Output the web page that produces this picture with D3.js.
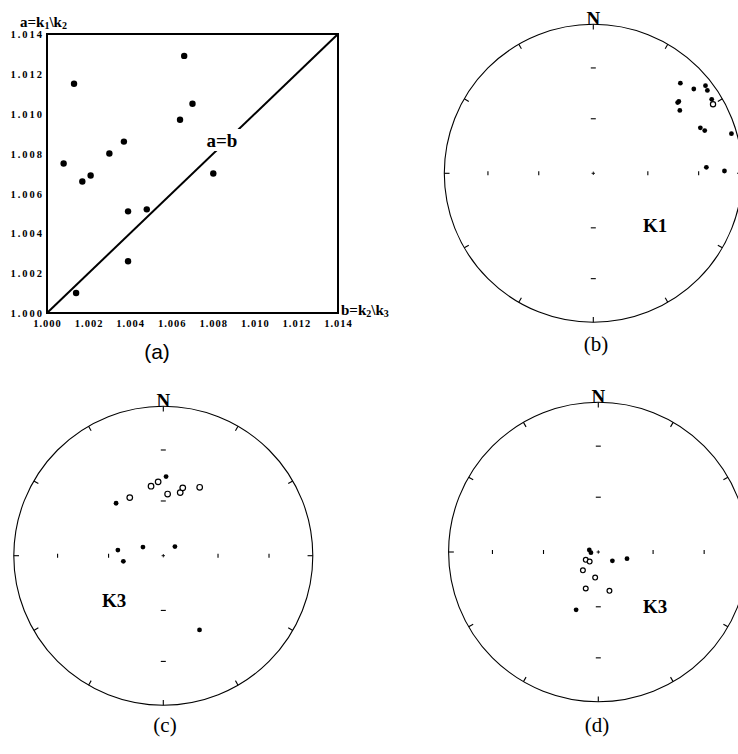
<!DOCTYPE html>
<html><head><meta charset="utf-8">
<script src="https://cdn.jsdelivr.net/npm/d3@7/dist/d3.min.js"></script>
<style>body{margin:0;background:#fff}svg{display:block}</style>
</head><body>
<svg id="c" width="738" height="754"></svg>
<script>
// ---- Panel (a): anisotropy ratios ----
const ratioTicks = [1.000,1.002,1.004,1.006,1.008,1.010,1.012,1.014];
const bValues = [1.0008,1.0013,1.0017,1.0021,1.0030,1.0037,1.0039,1.0048,1.0039,1.0014,1.0064,1.0066,1.0070,1.0080];
const aValues = [1.0075,1.0115,1.0066,1.0069,1.0080,1.0086,1.0051,1.0052,1.0026,1.0010,1.0097,1.0129,1.0105,1.0070];

// ---- Stereonets: [trend, plunge] in degrees ----
const k1Filled = [[44,17],[50,13],[52,5],[54,6],[58,7],[50,26],[50,27],[54,29],[67,23],[69,21],[74,4],[87,25],[89,13]];
const k1Open = [[60,8]];
const k3cFilled = [[2,46],[318,51],[277,65],[262,68],[293,78],[52,82],[154,44]];
const k3cOpen = [[330,53],[350,51],[356,49],[4,56],[15,54],[16,51],[28,47]];
const k3dFilled = [[283,85],[265,86],[122,81],[103,74],[201,56]];
const k3dOpen = [[238,82],[222,83],[220,77],[187,76],[199,69],[164,68]];
const netTickPlunges = [60,30];
const azimuthTicks = d3.range(0,360,30);

const svg = d3.select("#c");
const serif = "'Liberation Serif','Times New Roman',serif";

// Panel (a)
const ga = svg.append("g");
const x = d3.scaleLinear().domain([1.000,1.014]).range([47,338]);
const y = d3.scaleLinear().domain([1.000,1.014]).range([313,34]);
const fmt = d3.format(".3f");
const xAxis = ga.append("g").attr("transform","translate(0,313)")
  .call(d3.axisBottom(x).tickValues(ratioTicks).tickSize(0).tickPadding(7).tickFormat(fmt));
const yAxis = ga.append("g").attr("transform","translate(47,0)")
  .call(d3.axisLeft(y).tickValues(ratioTicks).tickSize(0).tickPadding(3).tickFormat(fmt));
[xAxis,yAxis].forEach(a=>{
  a.select(".domain").remove();
  a.selectAll("text").attr("font-family",serif).attr("font-weight","bold").attr("font-size",10.5).attr("fill","#000");
});
xAxis.selectAll("text").attr("letter-spacing",1);
yAxis.selectAll("text").attr("letter-spacing",2).attr("dy","0.35em");
ga.append("rect").attr("x",x(1.000)).attr("y",y(1.014))
  .attr("width",x(1.014)-x(1.000)).attr("height",y(1.000)-y(1.014))
  .attr("fill","none").attr("stroke","#000").attr("stroke-width",2);
ga.append("line").attr("x1",x(1.000)).attr("y1",y(1.000)).attr("x2",x(1.014)).attr("y2",y(1.014))
  .attr("stroke","#000").attr("stroke-width",2);
ga.append("rect").attr("x",202).attr("y",129).attr("width",42).attr("height",22).attr("fill","#fff");
ga.append("text").attr("x",222).attr("y",147).attr("text-anchor","middle")
  .attr("font-family",serif).attr("font-weight","bold").attr("font-size",19).text("a=b");
ga.selectAll("circle.pt").data(bValues).join("circle").attr("class","pt")
  .attr("cx",(d)=>x(d)).attr("cy",(d,i)=>y(aValues[i])).attr("r",3.2).attr("fill","#000");
const yl = ga.append("text").attr("x",20).attr("y",27).attr("font-family",serif).attr("font-weight","bold").attr("font-size",15);
yl.append("tspan").text("a=k");
yl.append("tspan").attr("font-size",10).attr("dy",2).text("1");
yl.append("tspan").attr("dy",-2).text("\\k");
yl.append("tspan").attr("font-size",10).attr("dy",2).text("2");
const xl = ga.append("text").attr("x",341).attr("y",315).attr("font-family",serif).attr("font-weight","bold").attr("font-size",15);
xl.append("tspan").text("b=k");
xl.append("tspan").attr("font-size",10).attr("dy",2).text("2");
xl.append("tspan").attr("dy",-2).text("\\k");
xl.append("tspan").attr("font-size",10).attr("dy",2).text("3");
svg.append("text").attr("x",157).attr("y",359).attr("text-anchor","middle")
  .attr("font-family","'Liberation Sans',Arial,sans-serif").attr("font-size",21).text("(a)");

// Stereonets
function stereonet(cx, cy, R, label, labelPos, filled, open, openR, caption, capPos){
  const g = svg.append("g");
  const sx = d3.scaleLinear().domain([-1,1]).range([cx-R,cx+R]);
  const sy = d3.scaleLinear().domain([-1,1]).range([cy+R,cy-R]);
  const rad = p => Math.SQRT2*Math.sin((90-p)/2*Math.PI/180);
  const proj = ([t,p]) => { const r = rad(p), a=t*Math.PI/180; return [sx(r*Math.sin(a)), sy(r*Math.cos(a))]; };
  g.append("circle").attr("cx",cx).attr("cy",cy).attr("r",R).attr("fill","none").attr("stroke","#000").attr("stroke-width",1.1);
  g.selectAll("line.az").data(azimuthTicks).join("line").attr("class","az")
    .attr("x1",d=>sx(Math.sin(d*Math.PI/180))).attr("y1",d=>sy(Math.cos(d*Math.PI/180)))
    .attr("x2",d=>sx(0.965*Math.sin(d*Math.PI/180))).attr("y2",d=>sy(0.965*Math.cos(d*Math.PI/180)))
    .attr("stroke","#000").attr("stroke-width",1.1);
  const inner = [];
  netTickPlunges.forEach(p=>{ const r=rad(p); inner.push([r,0],[-r,0],[0,r],[0,-r]); });
  g.selectAll("line.in").data(inner).join("line").attr("class","in")
    .attr("x1",d=>d[1]===0? sx(d[0]) : sx(0)-2.5).attr("x2",d=>d[1]===0? sx(d[0]) : sx(0)+2.5)
    .attr("y1",d=>d[1]===0? sy(0)-2 : sy(d[1])).attr("y2",d=>d[1]===0? sy(0)+2 : sy(d[1]))
    .attr("stroke","#000").attr("stroke-width",1.1);
  g.append("path").attr("d",`M${sx(0)-1.7},${sy(0)}H${sx(0)+1.7}M${sx(0)},${sy(0)-1.7}V${sy(0)+1.7}`).attr("stroke","#000").attr("stroke-width",0.9);
  g.append("text").attr("x",cx).attr("y",cy-R+1).attr("text-anchor","middle").attr("font-family",serif).attr("font-weight","bold").attr("font-size",19).text("N");
  g.append("text").attr("x",labelPos[0]).attr("y",labelPos[1]).attr("font-family",serif).attr("font-weight","bold").attr("font-size",19).text(label);
  g.selectAll("circle.f").data(filled).join("circle").attr("class","f")
    .attr("cx",d=>proj(d)[0]).attr("cy",d=>proj(d)[1]).attr("r",2.4).attr("fill","#000");
  g.selectAll("circle.o").data(open).join("circle").attr("class","o")
    .attr("cx",d=>proj(d)[0]).attr("cy",d=>proj(d)[1]).attr("r",openR).attr("fill","#fff").attr("stroke","#000").attr("stroke-width",1.2);
  svg.append("text").attr("x",capPos[0]).attr("y",capPos[1]).attr("text-anchor","middle").attr("font-family",serif).attr("font-size",21).text(caption);
}
stereonet(593.3,173.3,149,"K1",[643,232],k1Filled,k1Open,2.6,"(b)",[596,351]);
stereonet(163.3,555.7,149.5,"K3",[102,607],k3cFilled,k3cOpen,2.8,"(c)",[165,732]);
stereonet(598.3,552,149.7,"K3",[643,613],k3dFilled,k3dOpen,2.4,"(d)",[597,732]);
</script>
</body></html>
